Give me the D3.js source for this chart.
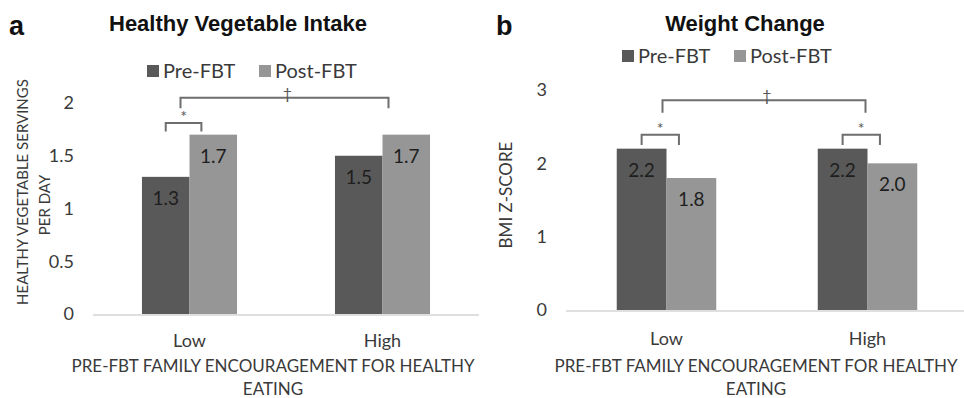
<!DOCTYPE html>
<html>
<head>
<meta charset="utf-8">
<script src="https://cdn.jsdelivr.net/npm/d3@7"></script>
<style>
  body { margin: 0; background: #fff; }
  text { font-family: Lato, "Open Sans", sans-serif; fill: #3a3a3a; }
  .title, .panel { font-family: "Liberation Sans", Arial, sans-serif; font-weight: bold; fill: #111; }
</style>
</head>
<body>
<div id="chart"></div>
<script>
const categories = ["Low", "High"];
const series = ["Pre-FBT", "Post-FBT"];
const vegPre = [1.3, 1.5];
const vegPost = [1.7, 1.7];
const bmiPre = [2.2, 2.2];
const bmiPost = [1.8, 2.0];
const vegTicks = [0, 0.5, 1, 1.5, 2];
const bmiTicks = [0, 1, 2, 3];
const vegLabels = ["1.3", "1.5", "1.7", "1.7"];
const bmiLabels = ["2.2", "2.2", "1.8", "2.0"];
// significance marks: group brackets (*) and across-group bracket (†), heights in data units
const vegStars = [{ cat: "Low", top: 1.81, foot: 1.73 }];
const vegDagger = { top: 2.05, foot: 1.95 };
const bmiStars = [{ cat: "Low", top: 2.39, foot: 2.25 }, { cat: "High", top: 2.39, foot: 2.25 }];
const bmiDagger = { top: 2.86, foot: 2.69 };

const width = 964;
const height = 398;
const colors = ["#595959", "#969696"];

const svg = d3.select("#chart").append("svg")
  .attr("width", width)
  .attr("height", height);

function drawPanel(opt) {
  const g = svg.append("g");

  const x = d3.scaleBand()
    .domain(categories)
    .range(opt.xRange);

  const xs = d3.scaleBand()
    .domain(series)
    .range([0, x.bandwidth()])
    .paddingInner(0)
    .paddingOuter(opt.barPad);

  const y = d3.scaleLinear()
    .domain([0, d3.max(opt.ticks)])
    .range(opt.yRange);

  // baseline
  g.append("line")
    .attr("x1", opt.xRange[0])
    .attr("x2", opt.lineEnd)
    .attr("y1", y(0) + 1)
    .attr("y2", y(0) + 1)
    .attr("stroke", "#d4d4d4")
    .attr("stroke-width", 1.5);

  // y axis (labels only)
  const yAxis = d3.axisLeft(y).tickValues(opt.ticks).tickSize(0).tickPadding(0)
    .tickFormat(d => d);
  const ya = g.append("g")
    .attr("transform", `translate(${opt.tickX},0)`)
    .call(yAxis);
  ya.select(".domain").remove();
  ya.selectAll("text")
    .attr("font-family", "Lato, sans-serif")
    .attr("font-size", 18)
    .attr("fill", "#3a3a3a");

  // x axis labels
  const xAxis = d3.axisBottom(x).tickSize(0).tickPadding(0);
  const xa = g.append("g")
    .attr("transform", `translate(0,${opt.xLabelY})`)
    .call(xAxis);
  xa.select(".domain").remove();
  xa.selectAll("text")
    .attr("font-family", "Lato, sans-serif")
    .attr("font-size", 18)
    .attr("fill", "#3a3a3a");

  // bars
  const rows = [];
  series.forEach((s, si) => {
    categories.forEach((c, ci) => {
      rows.push({ cat: c, ser: s, si: si, value: opt.values[si][ci] });
    });
  });

  g.selectAll(".bar")
    .data(rows)
    .join("rect")
    .attr("class", "bar")
    .attr("x", d => x(d.cat) + xs(d.ser))
    .attr("y", d => y(d.value))
    .attr("width", xs.bandwidth())
    .attr("height", d => y(0) - y(d.value))
    .attr("fill", d => colors[d.si]);

  g.selectAll(".val")
    .data(rows)
    .join("text")
    .attr("class", "val")
    .attr("x", d => x(d.cat) + xs(d.ser) + xs.bandwidth() / 2)
    .attr("y", d => y(d.value) + 28)
    .attr("text-anchor", "middle")
    .attr("font-size", 19)
    .style("fill", "#1e1e1e")
    .text((d, i) => opt.labels[i]);

  // star brackets
  opt.stars.forEach(s => {
    const x1 = x(s.cat) + xs("Pre-FBT") + xs.bandwidth() * 0.5;
    const x2 = x(s.cat) + xs("Post-FBT") + xs.bandwidth() * 0.25;
    g.append("path")
      .attr("d", `M${x1},${y(s.foot)}V${y(s.top)}H${x2}V${y(s.foot)}`)
      .attr("fill", "none")
      .attr("stroke", "#6e6e6e")
      .attr("stroke-width", 2);
    g.append("text")
      .attr("x", (x1 + x2) / 2)
      .attr("y", y(s.top) - 1)
      .attr("text-anchor", "middle")
      .attr("font-size", 16)
      .style("fill", "#555")
      .text("*");
  });

  // dagger bracket between groups
  const dx1 = x("Low") + x.bandwidth() / 2 + opt.daggerShift[0];
  const dx2 = x("High") + x.bandwidth() / 2 + opt.daggerShift[1];
  g.append("path")
    .attr("d", `M${dx1},${y(opt.dagger.foot)}V${y(opt.dagger.top)}H${dx2}V${y(opt.dagger.foot)}`)
    .attr("fill", "none")
    .attr("stroke", "#6e6e6e")
    .attr("stroke-width", 2);
  g.append("text")
    .attr("x", (dx1 + dx2) / 2 + 3)
    .attr("y", y(opt.dagger.top) + 1)
    .attr("text-anchor", "middle")
    .attr("font-size", 16)
    .style("fill", "#555")
    .text("†");

  // titles
  g.append("text")
    .attr("class", "panel")
    .attr("x", opt.panelX)
    .attr("y", 35)
    .attr("font-size", 27)
    .text(opt.panel);
  g.append("text")
    .attr("class", "title")
    .attr("x", opt.titleX)
    .attr("y", 31)
    .attr("text-anchor", "middle")
    .attr("font-size", 22)
    .text(opt.title);

  // legend
  const leg = g.append("g").attr("transform", `translate(${opt.legendX},${opt.legendY})`);
  const legX = [0, 112];
  series.forEach((s, i) => {
    leg.append("rect")
      .attr("x", legX[i])
      .attr("y", -6)
      .attr("width", 12)
      .attr("height", 12)
      .attr("fill", colors[i]);
    leg.append("text")
      .attr("x", legX[i] + 16)
      .attr("y", 7)
      .attr("font-size", 20)
      .text(s);
  });

  // axis titles
  opt.yTitle.forEach(t => {
    g.append("text")
      .attr("transform", `translate(${t.x},${t.y}) rotate(-90)`)
      .attr("text-anchor", "middle")
      .attr("font-size", t.size)
      .text(t.text);
  });
  ["PRE-FBT FAMILY ENCOURAGEMENT FOR HEALTHY", "EATING"].forEach((t, i) => {
    g.append("text")
      .attr("x", opt.xTitleX)
      .attr("y", 372 + i * 23)
      .attr("text-anchor", "middle")
      .attr("font-size", 17)
      .text(t);
  });
}

drawPanel({
  xRange: [93, 479],
  lineEnd: 479,
  yRange: [314, 103],
  ticks: vegTicks,
  tickX: 74,
  barPad: 1.03,
  xLabelY: 334,
  values: [vegPre, vegPost],
  labels: vegLabels,
  stars: vegStars,
  dagger: vegDagger,
  daggerShift: [-9, 6],
  panel: "a",
  panelX: 9,
  title: "Healthy Vegetable Intake",
  titleX: 238,
  legendX: 147,
  legendY: 71,
  yTitle: [
    { x: 28, y: 192, text: "HEALTHY VEGETABLE SERVINGS", size: 15 },
    { x: 50, y: 205, text: "PER DAY", size: 15 }
  ],
  xTitleX: 273
});

drawPanel({
  xRange: [566, 968],
  lineEnd: 964,
  yRange: [310, 90],
  ticks: bmiTicks,
  tickX: 547,
  barPad: 1.02,
  xLabelY: 332,
  values: [bmiPre, bmiPost],
  labels: bmiLabels,
  stars: bmiStars,
  dagger: bmiDagger,
  daggerShift: [-4, -2],
  panel: "b",
  panelX: 496,
  title: "Weight Change",
  titleX: 745,
  legendX: 622,
  legendY: 56,
  yTitle: [
    { x: 512, y: 195, text: "BMI Z-SCORE", size: 17 }
  ],
  xTitleX: 756
});
</script>
</body>
</html>
